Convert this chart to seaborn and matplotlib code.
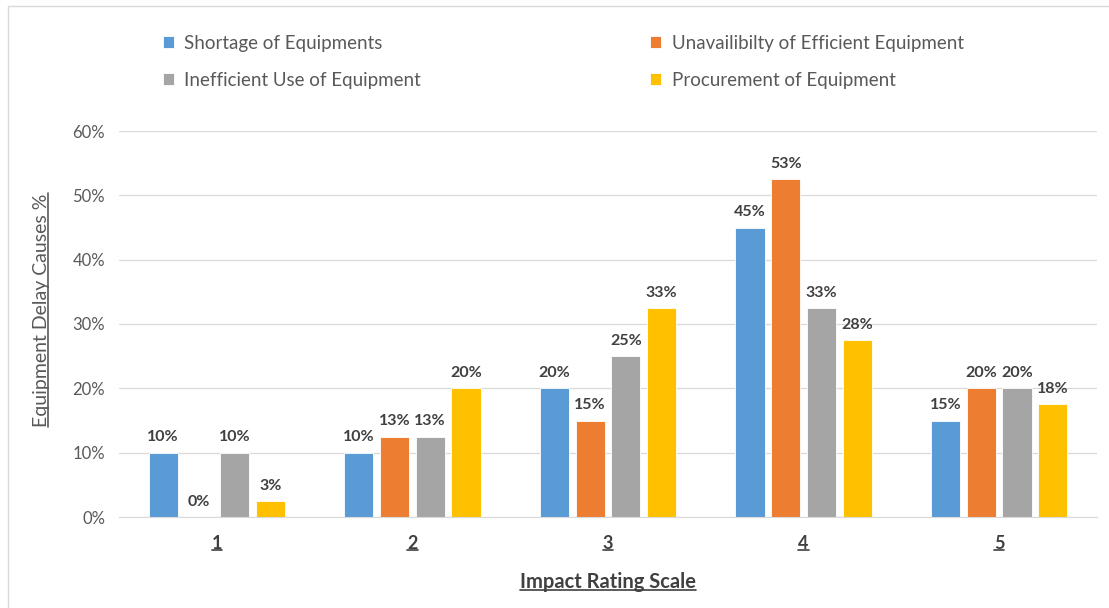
import math
import pandas as pd
import matplotlib.pyplot as plt
import seaborn as sns
from matplotlib.lines import Line2D
from matplotlib.ticker import FuncFormatter

# data (percent)
scale = ['1', '2', '3', '4', '5']
series = ['Shortage of Equipments', 'Unavailibilty of Efficient Equipment',
          'Inefficient Use of Equipment', 'Procurement of Equipment']
shortage = [10, 10, 20, 45, 15]
unavailability = [0, 12.5, 15, 52.5, 20]
inefficient_use = [10, 12.5, 25, 32.5, 20]
procurement = [2.5, 20, 32.5, 27.5, 17.5]
colors = ['#5B9BD5', '#ED7D31', '#A5A5A5', '#FFC000']

rows = []
for name, vals in zip(series, [shortage, unavailability, inefficient_use, procurement]):
    for s, v in zip(scale, vals):
        rows.append({'scale': s, 'cause': name, 'value': v})
df = pd.DataFrame(rows)

sns.set_style('white')
plt.rcParams['font.family'] = ['Lato', 'DejaVu Sans']

fig = plt.figure(figsize=(11.09, 6.08), dpi=100)
ax = fig.add_axes([119 / 1109, 91 / 608, 978 / 1109, 386 / 608])

sns.barplot(data=df, x='scale', y='value', hue='cause', hue_order=series,
            palette=colors, saturation=1, width=0.73, gap=0.18,
            edgecolor='white', linewidth=0.6, ax=ax, legend=True)

ax.set_ylim(0, 60)
ax.set_xlim(-0.5, 4.5)
ax.set_yticks(range(0, 61, 10))
ax.yaxis.set_major_formatter(FuncFormatter(lambda v, p: f'{v:.0f}%'))
ax.tick_params(axis='y', labelsize=12, labelcolor='#595959', length=0, pad=10)
ax.tick_params(axis='x', labelsize=13, labelcolor='#404040', length=0, pad=13)
for t in ax.get_xticklabels():
    t.set_fontweight('bold')
ax.grid(axis='y', color='#D9D9D9', linewidth=0.9)
ax.set_axisbelow(True)
for sp in ['top', 'right', 'left']:
    ax.spines[sp].set_visible(False)
ax.spines['bottom'].set_color('#D9D9D9')

for cont, vals in zip(ax.containers, [shortage, unavailability, inefficient_use, procurement]):
    labels = [f'{math.floor(v + 0.5)}%' for v in vals]
    ax.bar_label(cont, labels=labels, padding=6, fontsize=11.5, fontweight='bold',
                 color='#404040')

ax.set_xlabel('Impact Rating Scale', fontsize=14.5, fontweight='bold',
              color='#404040', labelpad=14)
ax.set_ylabel('Equipment Delay Causes %', fontsize=14, color='#595959')
ax.yaxis.set_label_coords(-0.071, 0.536)

# legend in row order like the original (two columns)
handles, labels = ax.get_legend_handles_labels()
order = [0, 2, 1, 3]
ax.legend([handles[i] for i in order], [labels[i] for i in order],
          loc='upper left', bbox_to_anchor=(146 / 1109, 1 - 18 / 608),
          bbox_transform=fig.transFigure, ncol=2, frameon=False,
          fontsize=13.5, labelcolor='#595959', handlelength=0.6,
          handleheight=0.6, handletextpad=0.55, columnspacing=12.2,
          labelspacing=1.05)

# outer chart border (top and left visible)
fig.add_artist(Line2D([8 / 1109, 1], [1 - 6 / 608, 1 - 6 / 608],
                      transform=fig.transFigure, color='#D9D9D9', lw=1))
fig.add_artist(Line2D([8 / 1109, 8 / 1109], [0, 1 - 6 / 608],
                      transform=fig.transFigure, color='#D9D9D9', lw=1))

# underline axis labels and x tick labels
fig.canvas.draw()
r = fig.canvas.get_renderer()
inv = fig.transFigure.inverted()
for t in [ax.xaxis.label] + ax.get_xticklabels():
    bb = t.get_window_extent(r)
    (x0, y0), (x1, y1) = inv.transform([(bb.x0, bb.y0), (bb.x1, bb.y1)])
    yl = y0 + 0.1 * (y1 - y0)
    fig.add_artist(Line2D([x0, x1], [yl, yl], transform=fig.transFigure,
                          color=t.get_color(), lw=1.2))
bb = ax.yaxis.label.get_window_extent(r)
(x0, y0), (x1, y1) = inv.transform([(bb.x0, bb.y0), (bb.x1, bb.y1)])
xl = x1 - 0.1 * (x1 - x0)
fig.add_artist(Line2D([xl, xl], [y0, y1], transform=fig.transFigure,
                      color='#595959', lw=1.2))

fig.savefig('out.png', dpi=100)
